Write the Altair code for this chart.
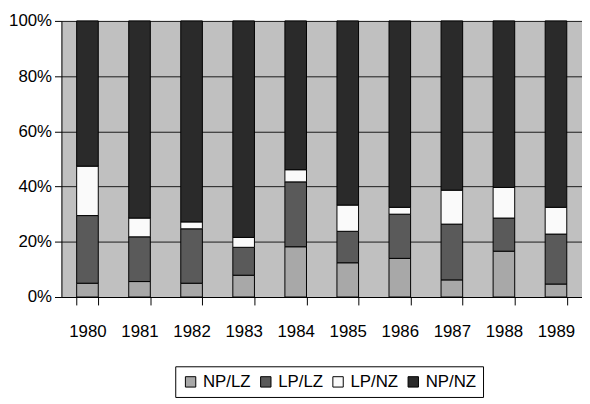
import altair as alt
import pandas as pd

years = ["1980", "1981", "1982", "1983", "1984", "1985", "1986", "1987", "1988", "1989"]
series = ["NP/LZ", "LP/LZ", "LP/NZ", "NP/NZ"]
np_lz = [5.0, 5.6, 5.0, 7.9, 18.2, 12.4, 14.0, 6.2, 16.6, 4.7]
lp_lz = [24.5, 16.2, 19.7, 10.1, 23.5, 11.4, 16.0, 20.2, 12.0, 18.1]
lp_nz = [17.9, 6.8, 2.5, 3.6, 4.4, 9.5, 2.5, 12.3, 11.1, 9.7]
np_nz = [52.6, 71.4, 72.8, 78.4, 53.9, 66.7, 67.5, 61.3, 60.3, 67.5]
colors = ["#a8a8a8", "#5a5a5a", "#fafafa", "#2a2a2a"]

rows = []
for i, y in enumerate(years):
    for k, (name, vals) in enumerate(zip(series, [np_lz, lp_lz, lp_nz, np_nz])):
        rows.append({"year": y, "series": name, "value": vals[i], "ord": k})
df = pd.DataFrame(rows)

FONT = "Liberation Sans"

chart = alt.Chart(df).mark_bar(stroke="black", strokeWidth=1).encode(
    x=alt.X("year:N", sort=years, title=None,
            scale=alt.Scale(paddingInner=0.585, paddingOuter=0.2925),
            axis=alt.Axis(labelAngle=0, tickBand="extent", tickSize=8, tickColor="black",
                          domainColor="black", labelFont=FONT, labelFontSize=17,
                          labelColor="black", labelPadding=19, grid=False)),
    y=alt.Y("value:Q", stack="normalize", title=None,
            scale=alt.Scale(domain=[0, 1]),
            axis=alt.Axis(values=[0, 0.2, 0.4, 0.6, 0.8, 1.0], format=".0%",
                          tickSize=7, tickColor="black", domainColor="black",
                          labelFont=FONT, labelFontSize=17, labelColor="black",
                          labelPadding=3, grid=True, gridColor="#1a1a1a",
                          gridWidth=1, gridOpacity=1)),
    color=alt.Color("series:N", sort=series,
                    scale=alt.Scale(domain=series, range=colors),
                    legend=alt.Legend(orient="none", legendX=115, legendY=349,
                                      direction="horizontal", title=None,
                                      strokeColor="black", fillColor="white",
                                      padding=7, symbolType="square", symbolSize=110,
                                      symbolStrokeColor="black", symbolStrokeWidth=1,
                                      labelFont=FONT, labelFontSize=17,
                                      labelColor="black", labelOffset=4,
                                      columnPadding=6)),
    order=alt.Order("ord:Q", sort="ascending"),
).properties(
    width=526, height=279,
    autosize=alt.AutoSizeParams(type="none"),
    padding={"left": 54, "top": 11, "right": 0, "bottom": 100},
).configure_view(fill="#c0c0c0", stroke=None)

chart.save("out.html", embed_options={"renderer": "svg", "actions": False})
